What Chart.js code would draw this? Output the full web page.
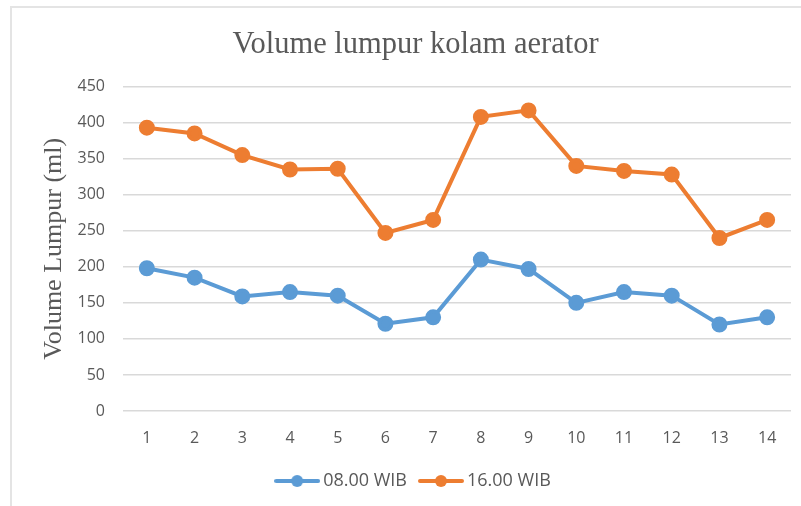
<!DOCTYPE html>
<html>
<head>
<meta charset="utf-8">
<script src="https://cdn.jsdelivr.net/npm/chart.js@4"></script>
<style>
  html, body { margin: 0; padding: 0; background: #fff; }
  #wrap { position: relative; width: 801px; height: 506px; overflow: hidden; }
  #frame { position: absolute; left: 10px; top: 6px; width: 800px; height: 510px;
           border-left: 2px solid #e4e4e4; border-top: 2px solid #e4e4e4; }
  canvas { position: absolute; left: 0; top: 0; }
</style>
</head>
<body>
<div id="wrap">
  <div id="frame"></div>
  <canvas id="lumpurChart" width="801" height="506"></canvas>
</div>
<script>
var days = ['1', '2', '3', '4', '5', '6', '7', '8', '9', '10', '11', '12', '13', '14'];
var pagi = [198, 185, 159, 165, 160, 121, 130, 210, 197, 150, 165, 160, 120, 130];
var sore = [393, 385, 355, 335, 336, 247, 265, 408, 417, 340, 333, 328, 240, 265];
var seriesNames = ['08.00 WIB', '16.00 WIB'];

var blue = '#5B9BD5';
var orange = '#ED7D31';
var textGray = '#595959';

// legend marker: short line with a dot in the middle, like Excel
function legendMarker(color) {
    var c = document.createElement('canvas');
    c.width = 46;
    c.height = 14;
    var g = c.getContext('2d');
    g.strokeStyle = color;
    g.lineWidth = 4;
    g.lineCap = 'round';
    g.beginPath();
    g.moveTo(2, 7);
    g.lineTo(44, 7);
    g.stroke();
    g.fillStyle = color;
    g.beginPath();
    g.arc(23, 7, 6, 0, Math.PI * 2);
    g.fill();
    return c;
}

function initializeLumpurChart() {
    var ctx = document.getElementById('lumpurChart').getContext('2d');

    new Chart(ctx, {
        type: 'line',
        data: {
            labels: days,
            datasets: [
                {
                    label: seriesNames[0],
                    data: pagi,
                    borderColor: blue,
                    backgroundColor: blue,
                    borderWidth: 4,
                    pointRadius: 6,
                    pointHoverRadius: 6,
                    pointStyle: 'circle',
                    tension: 0
                },
                {
                    label: seriesNames[1],
                    data: sore,
                    borderColor: orange,
                    backgroundColor: orange,
                    borderWidth: 4,
                    pointRadius: 6,
                    pointHoverRadius: 6,
                    pointStyle: 'circle',
                    tension: 0
                }
            ]
        },
        options: {
            responsive: false,
            animation: false,
            layout: {
                padding: { left: 39, right: 9, top: 27, bottom: 6 }
            },
            scales: {
                x: {
                    offset: true,
                    grid: { display: false, drawTicks: false },
                    border: { display: false },
                    ticks: {
                        color: textGray,
                        padding: 18,
                        font: { family: 'Open Sans', size: 16 }
                    },
                    afterFit: function(scale) { scale.height = 44; }
                },
                y: {
                    min: 0,
                    max: 450,
                    grid: { color: '#d9d9d9', lineWidth: 1.5, drawTicks: false },
                    border: { display: false },
                    ticks: {
                        stepSize: 50,
                        color: textGray,
                        padding: 18,
                        font: { family: 'Open Sans', size: 16 }
                    },
                    title: {
                        display: true,
                        text: 'Volume Lumpur (ml)',
                        color: textGray,
                        padding: { top: 0, bottom: 4 },
                        font: { family: 'Liberation Serif', size: 26 }
                    },
                    afterFit: function(scale) { scale.width = 84; }
                }
            },
            plugins: {
                title: {
                    display: true,
                    text: 'Volume lumpur kolam aerator',
                    color: textGray,
                    padding: { top: 0, bottom: 23 },
                    font: { family: 'Liberation Serif', size: 30.5, weight: 'normal' }
                },
                legend: {
                    position: 'bottom',
                    labels: {
                        usePointStyle: true,
                        pointStyleWidth: 34,
                        boxHeight: 14,
                        padding: 17,
                        color: textGray,
                        font: { family: 'Open Sans', size: 18 },
                        generateLabels: function(chart) {
                            return chart.data.datasets.map(function(ds, i) {
                                return {
                                    text: ds.label,
                                    pointStyle: legendMarker(ds.borderColor),
                                    fontColor: textGray,
                                    lineWidth: 0,
                                    strokeStyle: 'transparent',
                                    fillStyle: ds.borderColor,
                                    datasetIndex: i
                                };
                            });
                        }
                    }
                },
                tooltip: { enabled: false }
            }
        }
    });
}

document.addEventListener('DOMContentLoaded', initializeLumpurChart);
</script>
</body>
</html>
